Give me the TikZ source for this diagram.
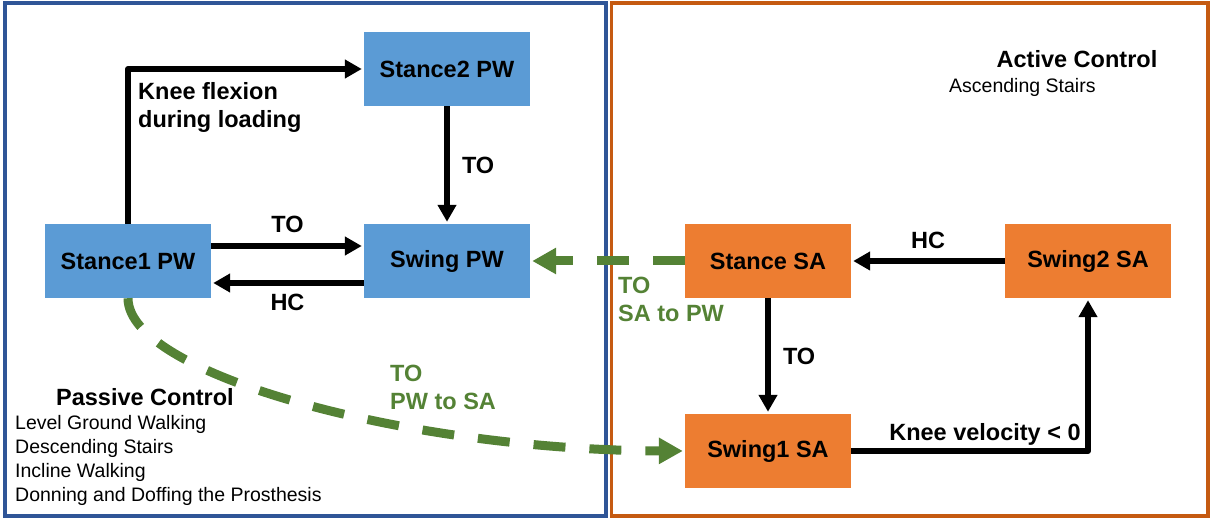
\documentclass[tikz,border=0pt]{standalone}
\usepackage{fontspec}
\setmainfont{Liberation Sans}
\usetikzlibrary{arrows.meta}

\definecolor{pwblue}{HTML}{5B9BD5}
\definecolor{saorange}{HTML}{ED7D31}
\definecolor{passiveframe}{HTML}{2F5597}
\definecolor{activeframe}{HTML}{C55A11}
\definecolor{switchgreen}{HTML}{548235}

\newcommand{\statefont}{\fontsize{23.5}{28}\selectfont\bfseries}
\newcommand{\listfont}{\fontsize{19.5}{24}\selectfont}

\tikzstyle{pwstate} = [rectangle, fill=pwblue, minimum width=166pt, minimum height=74pt, inner sep=0pt, text centered, font=\statefont]
\tikzstyle{sastate} = [pwstate, fill=saorange]
\tikzstyle{arrow} = [line width=6pt, line join=round, shorten >=2pt, -{Triangle[length=17pt,width=18pt]}]
\tikzstyle{greenarrow} = [line width=9pt, switchgreen, dash pattern=on 32pt off 24pt, shorten >=2pt, -{Triangle[length=24pt,width=25pt]}]
\tikzstyle{translabel} = [font=\statefont, inner sep=0pt]
\tikzstyle{greenlabel} = [font=\statefont, text=switchgreen, align=left, inner sep=0pt]

\begin{document}
\begin{tikzpicture}[x=1pt, y=1pt]
    \useasboundingbox (0,0) rectangle (1210,-518);

    % control mode frames
    \draw [passiveframe, line width=3.5pt] (5,-3) rectangle (606,-516);
    \draw [activeframe, line width=3.5pt] (611.5,-3) rectangle (1208,-516);

    % states
    \node (stance1) [pwstate] at (128,-261) {Stance1 PW};
    \node (swingpw) [pwstate, right of=stance1, node distance=319pt] {Swing PW};
    \node (stance2) [pwstate, above of=swingpw, node distance=192pt] {Stance2 PW};
    \node (stancesa) [sastate, right of=swingpw, node distance=321pt] {Stance SA};
    \node (swing2) [sastate, right of=stancesa, node distance=320pt] {Swing2 SA};
    \node (swing1) [sastate, below of=stancesa, node distance=190pt] {Swing1 SA};

    % passive walking transitions
    \draw [arrow] (stance1.north) |- (stance2.west);
    \node (kneeflex) [translabel, anchor=north west, align=left] at (138,-82) {Knee flexion\\during loading};
    \draw [arrow] (stance2) -- (swingpw) node[midway, right, xshift=12pt, translabel] (to2) {TO};
    \draw [arrow] ([yshift=15pt]stance1.east) -- ([yshift=15pt]swingpw.west) node[midway, above, yshift=10pt, translabel] (to1) {TO};
    \draw [arrow] ([yshift=-22pt]swingpw.west) -- ([yshift=-22pt]stance1.east) node[midway, below, yshift=-8pt, translabel] (hc1) {HC};

    % stair ascent transitions
    \draw [arrow] (swing2) -- (stancesa) node[midway, above, yshift=9pt, translabel] (hc2) {HC};
    \draw [arrow] (stancesa) -- (swing1) node[midway, right, xshift=12pt, translabel] (to3) {TO};
    \draw [arrow] (swing1.east) -| (swing2.south);
    \node (kneevel) [translabel] at (985,-434) {Knee velocity < 0};

    % switching between modes
    \draw [greenarrow] (stancesa.west) -- (swingpw.east);
    \node (satopw) [greenlabel, anchor=north west] at (618,-277) {TO\\SA to PW};
    \draw [greenarrow] (stance1.south) .. controls (128,-375) and (410,-450) .. (swing1.west);
    \node (pwtosa) [greenlabel, anchor=north west] at (390,-365) {TO\\PW to SA};

    % mode descriptions
    \node (passive) [translabel] at (145,-397) {Passive Control};
    \node (passivelist) [anchor=north west, align=left, inner sep=0pt, font=\listfont] at (15,-415) {Level Ground Walking\\Descending Stairs\\Incline Walking\\Donning and Doffing the Prosthesis};
    \node (active) [translabel] at (1077,-59) {Active Control};
    \node (activelist) [anchor=west, inner sep=0pt, font=\listfont] at (949,-87) {Ascending Stairs};

\end{tikzpicture}
\end{document}
